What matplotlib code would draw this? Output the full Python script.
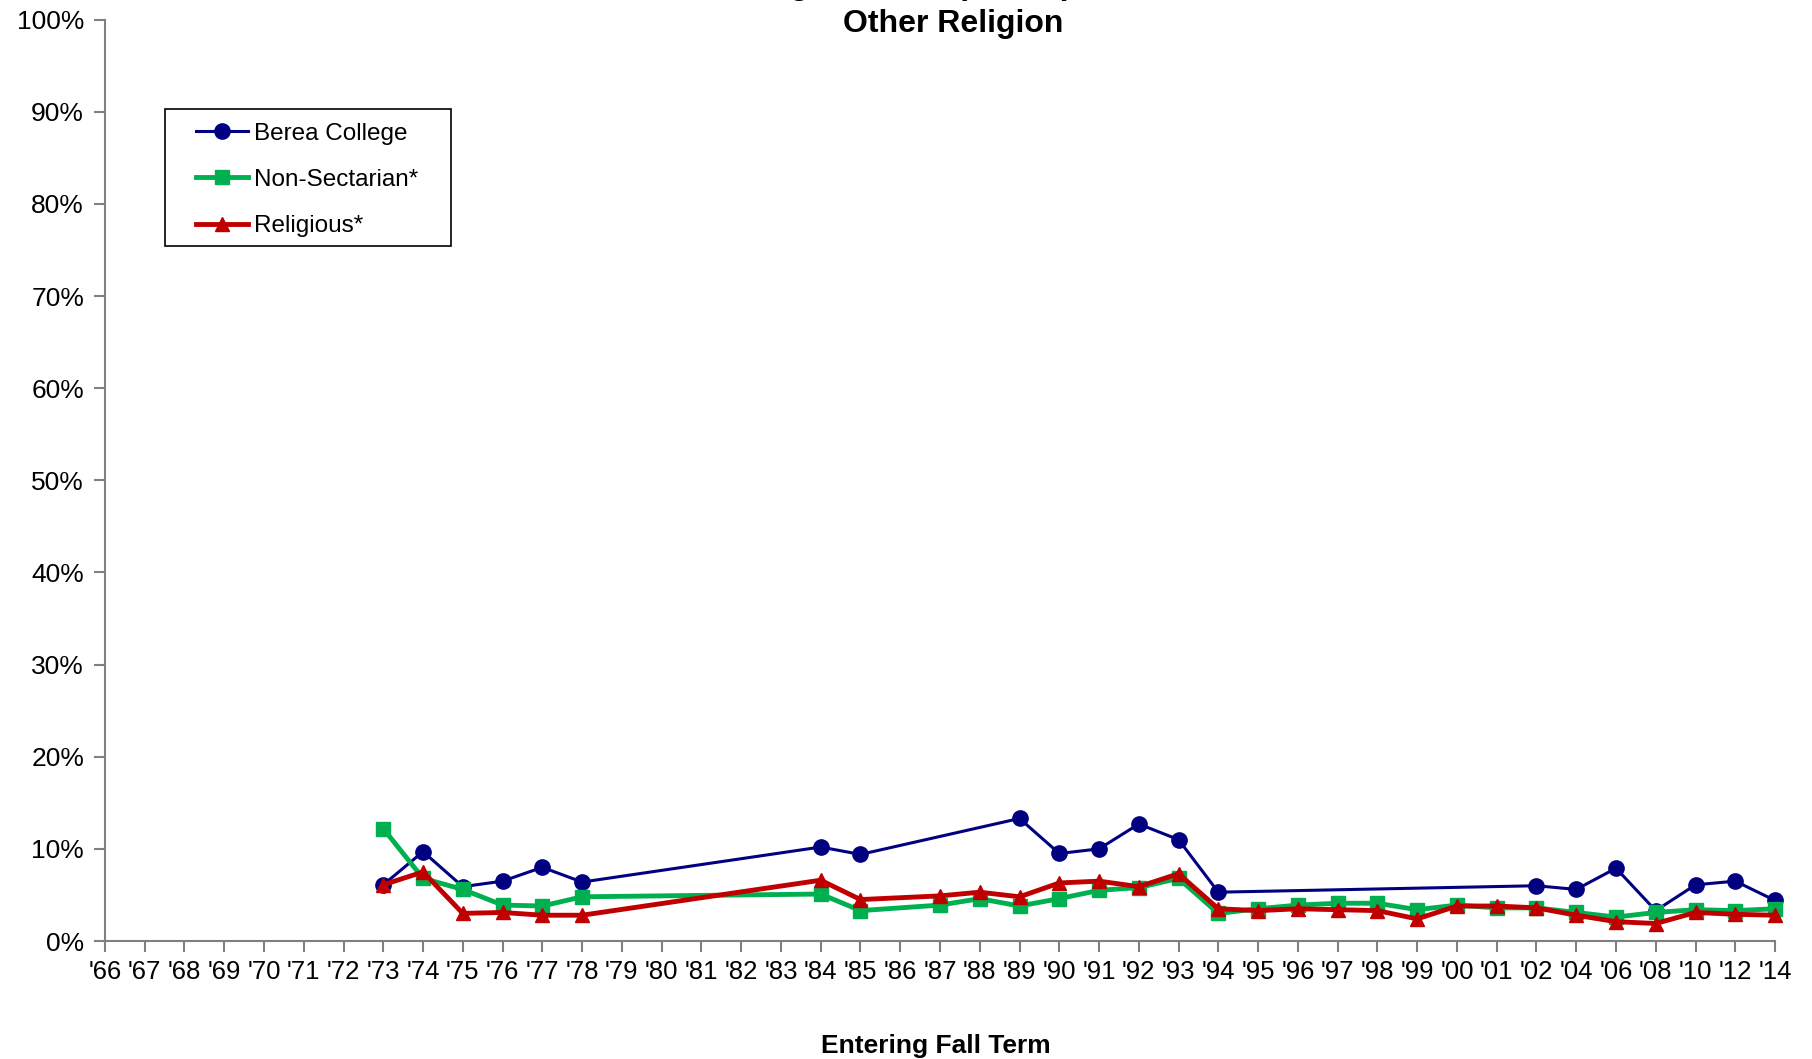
import numpy as np
import matplotlib
matplotlib.use("Agg")
import matplotlib.pyplot as plt
from matplotlib.patches import Rectangle

plt.rcParams['font.family'] = ['Liberation Sans', 'DejaVu Sans']

# categories (entering fall term)
years = ["'66", "'67", "'68", "'69", "'70", "'71", "'72", "'73", "'74", "'75",
         "'76", "'77", "'78", "'79", "'80", "'81", "'82", "'83", "'84", "'85",
         "'86", "'87", "'88", "'89", "'90", "'91", "'92", "'93", "'94", "'95",
         "'96", "'97", "'98", "'99", "'00", "'01", "'02", "'04", "'06", "'08",
         "'10", "'12", "'14"]

nan = np.nan
# values in percent, nan = no survey that year
berea = [nan, nan, nan, nan, nan, nan, nan, 6.1, 9.7, 5.9,
         6.5, 8.0, 6.4, nan, nan, nan, nan, nan, 10.2, 9.4,
         nan, nan, nan, 13.3, 9.5, 10.0, 12.7, 11.0, 5.3, nan,
         nan, nan, nan, nan, nan, nan, 6.0, 5.6, 7.9, 3.3,
         6.1, 6.5, 4.4]
nonsect = [nan, nan, nan, nan, nan, nan, nan, 12.2, 6.8, 5.6,
           3.9, 3.8, 4.8, nan, nan, nan, nan, nan, 5.1, 3.3,
           nan, 3.9, 4.6, 3.8, 4.6, 5.5, 5.8, 6.8, 3.0, 3.5,
           3.9, 4.1, 4.1, 3.4, 3.9, 3.6, 3.6, 3.1, 2.6, 3.1,
           3.4, 3.3, 3.5]
religious = [nan, nan, nan, nan, nan, nan, nan, 6.1, 7.5, 3.0,
             3.1, 2.8, 2.8, nan, nan, nan, nan, nan, 6.6, 4.5,
             nan, 4.9, 5.3, 4.8, 6.3, 6.5, 5.9, 7.3, 3.5, 3.3,
             3.5, 3.4, 3.3, 2.4, 3.8, 3.8, 3.6, 2.8, 2.1, 1.9,
             3.1, 2.9, 2.8]

W, H = 1812, 1059
fig = plt.figure(figsize=(W / 100, H / 100), dpi=100)
ax = fig.add_axes([0.0579, 0.1114, 0.9217, 0.8701])

x = np.arange(len(years))


def draw(vals, color, marker, ms, lw, label):
    v = np.array(vals, dtype=float)
    ok = ~np.isnan(v)
    # excel style: connect across the missing years
    ax.plot(x[ok], v[ok], color=color, marker=marker, ms=ms, lw=lw,
            label=label, clip_on=False, zorder=3)


draw(berea, '#000080', 'o', 11, 2.2, 'Berea College')
draw(nonsect, '#00B050', 's', 10, 3.5, 'Non-Sectarian*')
draw(religious, '#C00000', '^', 10, 3.5, 'Religious*')

ax.set_xlim(0, len(years) - 1)
ax.set_ylim(0, 100)
ax.set_xticks(x)
ax.set_xticklabels(years)
ax.set_yticks(np.arange(0, 101, 10))
ax.set_yticklabels([f'{v}%' for v in range(0, 101, 10)])

for s in ['top', 'right']:
    ax.spines[s].set_visible(False)
for s in ['left', 'bottom']:
    ax.spines[s].set_color('#808080')
    ax.spines[s].set_linewidth(1.5)
ax.tick_params(axis='both', color='#808080', width=1.5, length=8)
ax.tick_params(axis='y', pad=7, labelsize=19)
ax.tick_params(axis='x', pad=6, labelsize=18.5)

# titles (first line sits above the canvas in the original, only descenders show)
fig.text(0.526, 1 + 6 / H, 'Religious Group Comparison', ha='center', va='baseline',
         fontsize=23, fontweight='bold')
fig.text(0.526, 0.977, 'Other Religion', ha='center', va='center',
         fontsize=23, fontweight='bold')
fig.text(0.5166, 0.012, 'Entering Fall Term', ha='center', va='center',
         fontsize=19, fontweight='bold')

# legend box drawn by hand, entries without frame
fig.patches.append(Rectangle((165 / W, 1 - 246 / H), 286 / W, 137 / H,
                             transform=fig.transFigure, fill=False,
                             edgecolor='black', linewidth=1.2))
leg = ax.legend(loc='upper left', bbox_to_anchor=(196 / W, 1 - 122.5 / H),
                bbox_transform=fig.transFigure, fontsize=17.5, frameon=False,
                handlelength=2.15, labelspacing=1.0, borderpad=0,
                handletextpad=0.25, borderaxespad=0)

fig.savefig('out.png', dpi=100)
